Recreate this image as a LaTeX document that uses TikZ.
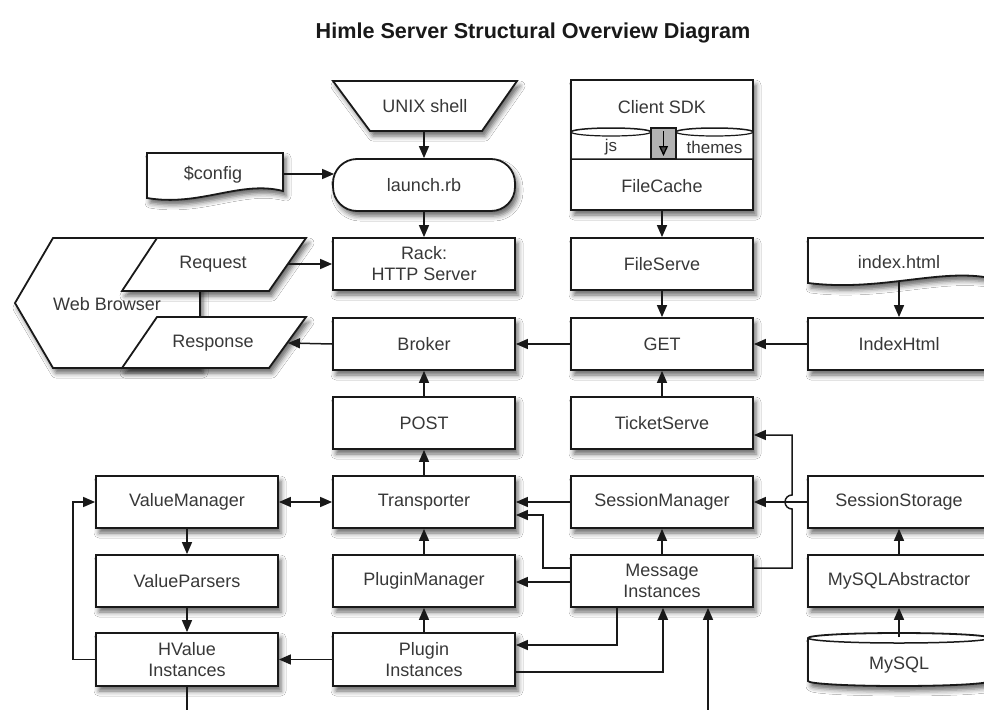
\documentclass[tikz,border=0pt]{standalone}
\usepackage{fontspec}
\setmainfont{Liberation Sans}
\usetikzlibrary{arrows.meta,shadows,shadows.blur,calc}
\begin{document}
\begin{tikzpicture}[x=1pt,y=-1pt,
  every node/.style={font=\fontsize{18}{21}\selectfont, text=black!78},
  sh/.style={blur shadow={shadow xshift=3pt, shadow yshift=-5pt, shadow blur radius=5pt, shadow opacity=60}},
  box/.style={draw=black!90, line width=1.8pt, fill=white, minimum width=182pt, minimum height=52pt, inner sep=0pt, align=center, sh},
  shp/.style={draw=black!90, line width=1.8pt, fill=white, sh},
  conn/.style={line width=1.5pt, draw=black!90, -{Triangle[length=12pt,width=10pt]}},
  plainline/.style={line width=1.5pt, draw=black!90}]
\useasboundingbox (0,0) rectangle (984,709);
\fill[white] (0,0) rectangle (984,709);
\clip (0,0) rectangle (984,709);

\node[font=\fontsize{21.6}{25}\selectfont\bfseries, text=black!90, anchor=base] (title) at (533,38) {Himle Server Structural Overview Diagram};

% UNIX shell
\path[shp] (333,81) -- (517,81) -- (482,131) -- (370,131) -- cycle;
\node (unix) at (425,106) {UNIX shell};
\coordinate (unixbot) at (424,131);

% launch.rb
\node[box, rounded corners=24pt] (launch) at (424,185) {launch.rb};

% $config
\path[shp] (147,153) -- (283,153) -- (283,191) .. controls (240,180) and (200,207) .. (147,198) -- cycle;
\node (config) at (213,175) {\$config};
\coordinate (configR) at (283,174);

% Rack
\node[box] (rack) at (424,264) {Rack:\\HTTP Server};

% Web browser
\path[shp] (15,303) -- (53,238) -- (200,238) -- (200,368) -- (53,368) -- cycle;
\node (browser) at (107,304) {Web Browser};
\path[shp] (157,238) -- (306,238) -- (269,291) -- (122,291) -- cycle;
\node (request) at (213,264) {Request};
\path[shp] (157,317) -- (306,317) -- (269,368) -- (122,368) -- cycle;
\node (response) at (213,343) {Response};
\coordinate (reqR) at (288,264);
\coordinate (respR) at (288,343);

% Client SDK
\node[box, minimum height=130pt] (sdk) at (662,145) {};
\node (sdklabel) at (662,107) {Client SDK};
\node (filecache) at (662,186) {FileCache};
\path[draw=black!90, line width=1.5pt, fill=white] (571,159) -- (571,132) arc[start angle=180, end angle=0, x radius=40pt, y radius=4pt] -- (651,159) -- cycle;
\draw[black!90, line width=1.2pt] (571,132) arc[start angle=180, end angle=360, x radius=40pt, y radius=4pt];
\path[draw=black!90, line width=1.5pt, fill=white] (676,159) -- (676,132) arc[start angle=180, end angle=0, x radius=38.5pt, y radius=4pt] -- (753,159) -- cycle;
\draw[black!90, line width=1.2pt] (676,132) arc[start angle=180, end angle=360, x radius=38.5pt, y radius=4pt];
\path[draw=black!90, line width=1.5pt, fill=black!30] (651,128) rectangle (676,159);
\draw[line width=1.3pt, -{Triangle[length=10pt,width=9pt]}] (663.5,131) -- (663.5,156);
\node[font=\fontsize{17}{20}\selectfont] (js) at (611,147) {js};
\node[font=\fontsize{17}{20}\selectfont] (themes) at (714.5,147) {themes};

% index.html
\path[shp] (808,238) -- (990,238) -- (990,278) .. controls (940,268) and (880,292) .. (808,283) -- cycle;
\node (indexfile) at (899,262) {index.html};
\coordinate (idxbot) at (899,281);

% boxes
\node[box] (fileserve) at (662,264) {FileServe};
\node[box] (broker) at (424,344) {Broker};
\node[box] (get) at (662,344) {GET};
\node[box] (indexhtml) at (899,344) {IndexHtml};
\node[box] (post) at (424,423) {POST};
\node[box] (ticket) at (662,423) {TicketServe};
\node[box] (valuemgr) at (187,502) {ValueManager};
\node[box] (transporter) at (424,502) {Transporter};
\node[box] (sessionmgr) at (662,502) {SessionManager};
\node[box] (sessionstorage) at (899,502) {SessionStorage};
\node[box] (valueparsers) at (187,581) {ValueParsers};
\node[box] (pluginmgr) at (424,581) {PluginManager};
\node[box] (message) at (662,581) {Message\\Instances};
\node[box] (mysqlabs) at (899,581) {MySQLAbstractor};
\node[box, minimum height=53pt] (hvalue) at (187,659.5) {HValue\\Instances};
\node[box, minimum height=53pt] (plugin) at (424,659.5) {Plugin\\Instances};

% MySQL cylinder
\path[shp] (808,638) arc[start angle=180, end angle=0, x radius=91pt, y radius=5pt] -- (990,681) arc[start angle=0, end angle=-180, x radius=91pt, y radius=5pt] -- cycle;
\draw[black!90, line width=1.5pt] (808,638) arc[start angle=180, end angle=360, x radius=91pt, y radius=5pt];
\node (mysql) at (899,665) {MySQL};
\coordinate (mysqltop) at (899,637);

% connectors
\draw[conn] (unixbot) -- (launch.north);
\draw[conn] (launch.south) -- (rack.north);
\draw[conn] (configR) -- ($(configR -| launch.west)+(2,0)$);
\draw[conn] (reqR) -- (reqR -| rack.west);
\draw[conn] (broker.west) -- (respR);
\draw[conn] (sdk.south) -- (fileserve.north);
\draw[conn] (fileserve) -- (get);
\draw[conn] (idxbot) -- (indexhtml.north);
\draw[conn] (indexhtml) -- (get);
\draw[conn] (get) -- (broker);
\draw[conn] (ticket) -- (get);
\draw[conn] (post) -- (broker);
\draw[conn] (transporter) -- (post);
\draw[conn, {Triangle[length=12pt,width=10pt]}-{Triangle[length=12pt,width=10pt]}] (valuemgr) -- (transporter);
\draw[conn] (sessionmgr) -- (transporter);
\draw[conn] (message.west |- 0,568) -| (543,515) -- (transporter.east |- 0,515);
\draw[conn] (message.west |- 0,582) -- (pluginmgr.east |- 0,582);
\draw[conn] (pluginmgr) -- (transporter);
\draw[conn] (message) -- (sessionmgr);
\draw[conn] (message.east |- 0,568) -- (792,568) -- (792,509) arc[start angle=270, end angle=90, radius=7pt] -- (792,435) -- (ticket.east |- 0,435);
\draw[conn] (sessionstorage) -- (sessionmgr);
\draw[conn] (mysqlabs) -- (sessionstorage);
\draw[conn] (mysqltop) -- (mysqlabs);
\draw[conn] (valuemgr) -- (valueparsers);
\draw[conn] (valueparsers) -- (hvalue);
\draw[conn] (hvalue.west) -| (73,502) -- (valuemgr.west);
\draw[plainline] (hvalue.south) -- (hvalue.south |- 0,715);
\draw[conn] (plugin) -- (hvalue);
\draw[conn] (plugin) -- (pluginmgr);
\draw[conn] (message.south -| 617,0) -- (617,645) -- (plugin.east |- 0,645);
\draw[conn] (plugin.east |- 0,672) -| (message.south -| 663,0);
\draw[conn] (708,715) -- (message.south -| 708,0);
\end{tikzpicture}
\end{document}
